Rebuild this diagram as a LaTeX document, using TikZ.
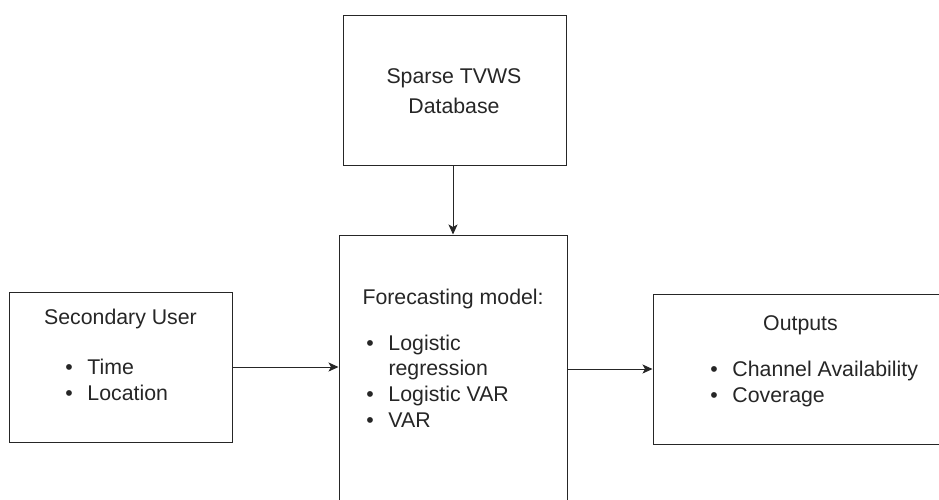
\documentclass[tikz,border=0pt]{standalone}
\usepackage{fontspec}
\setmainfont{Liberation Sans}
\usetikzlibrary{arrows.meta}
\newcommand{\blt}{\llap{\textbullet\hspace{14.6pt}}}
\begin{document}
\begin{tikzpicture}[x=1pt,y=-1pt,
  box/.style={draw=black!85, line width=1pt, fill=white, inner sep=0pt},
  txt/.style={inner sep=0pt, text=black!85, font=\fontsize{21.3}{25}\selectfont},
  conn/.style={draw=black!85, line width=1pt, -{Stealth[length=10pt,width=9pt,inset=2.5pt]}}]
\useasboundingbox (0,0) rectangle (939,499);
\clip (0,0) rectangle (939,499);
% boxes
\node[box, minimum width=223pt, minimum height=150pt] (db) at (454.5,90) {};
\node[box, minimum width=228pt, minimum height=305pt] (fm) at (453,387.5) {};
\node[box, minimum width=223pt, minimum height=150pt] (su) at (120.5,367) {};
\node[box, minimum width=294pt, minimum height=150pt] (out) at (800,369) {};
% top box text
\node[txt, anchor=base] (db1) at (454,83.5) {Sparse TVWS};
\node[txt, anchor=base] (db2) at (454,113.5) {Database};
% left box text
\node[txt, anchor=base] (su0) at (120.5,324.5) {Secondary User};
\node[txt, anchor=base west] (su1) at (87.3,374.3) {\blt Time};
\node[txt, anchor=base west] (su2) at (87.3,400.7) {\blt Location};
% middle box text
\node[txt, anchor=base west] (fm0) at (362.3,304) {Forecasting model:};
\node[txt, anchor=base west] (fm1) at (388.3,350) {\blt Logistic};
\node[txt, anchor=base west] (fm2) at (388.3,375.7) {regression};
\node[txt, anchor=base west] (fm3) at (388.3,401.4) {\blt Logistic VAR};
\node[txt, anchor=base west] (fm4) at (388.3,427.1) {\blt VAR};
% right box text
\node[txt, anchor=base] (out0) at (800.5,330) {Outputs};
\node[txt, anchor=base west] (out1) at (732.3,376.7) {\blt Channel Availability};
\node[txt, anchor=base west] (out2) at (732.3,402.3) {\blt Coverage};
% connectors
\draw[conn] (fm.north |- db.south) -- (fm.north);
\draw[conn] (su.east) -- (su.east -| fm.west);
\draw[conn] (out.west -| fm.east) -- (out.west);
\end{tikzpicture}
\end{document}
